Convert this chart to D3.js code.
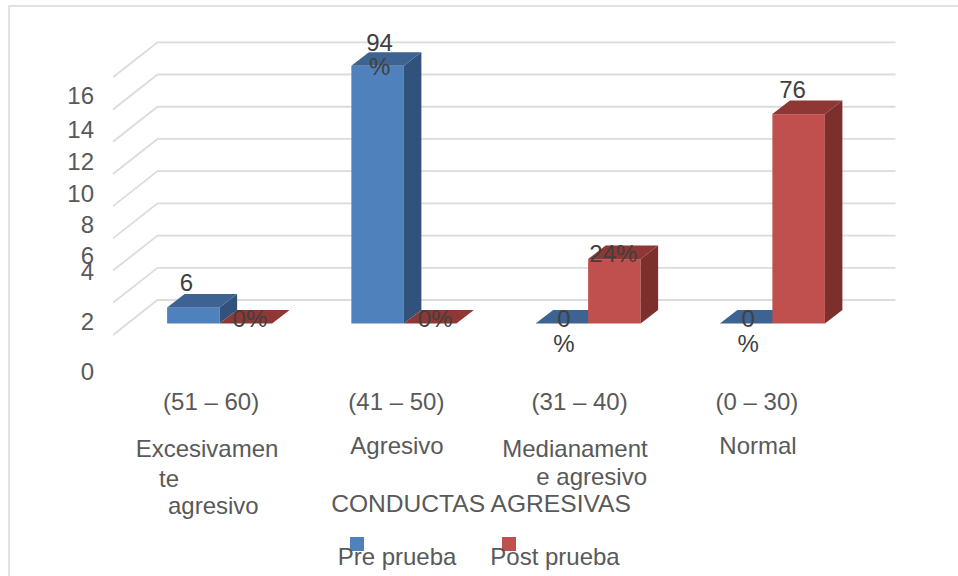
<!DOCTYPE html>
<html>
<head>
<meta charset="utf-8">
<script src="https://cdn.jsdelivr.net/npm/d3@7/dist/d3.min.js"></script>
<style>
  html, body { margin: 0; padding: 0; background: #fff; }
  svg { display: block; }
  text { font-family: "Liberation Sans", Arial, sans-serif; }
</style>
</head>
<body>
<script>
// data
var ranges = ["(51 – 60)", "(41 – 50)", "(31 – 40)", "(0 – 30)"];
var levels = ["Excesivamente agresivo", "Agresivo", "Medianamente agresivo", "Normal"];
var seriesNames = ["Pre prueba", "Post prueba"];
var prePrueba = [1, 16, 0, 0];
var postPrueba = [0, 0, 4, 13];
var preLabels = ["6", "94|%", "0|%", "0|%"];
var postLabels = ["0%", "0%", "24%", "76"];
var yTicks = [0, 2, 4, 6, 8, 10, 12, 14, 16];
var axisTitle = "CONDUCTAS AGRESIVAS";

var width = 958, height = 576;
var gray = "#595959", dark = "#404040", fontSize = 24;

var svg = d3.select("body").append("svg")
  .attr("width", width)
  .attr("height", height);

// chart frame, only top and left show in the crop
svg.append("path")
  .attr("d", d3.line()([[958, 6], [9, 6], [9, 576]]))
  .attr("fill", "none")
  .attr("stroke", "#d9d9d9")
  .attr("stroke-width", 1.5);

var x0 = d3.scaleBand().domain(levels).range([113, 850]).paddingInner(0.43).paddingOuter(0.215);
var x1 = d3.scaleBand().domain(seriesNames).range([0, x0.bandwidth()]);
var y = d3.scaleLinear().domain([0, 16]).range([323.5, 65.8]);

// offsets of the fake 3d box
var floorShift = 14.5;      // bars stand this far in from the front of the floor
var depthX = 17.5, depthY = 13.5;   // bar depth
var wallX = 44.5, wallUp = 23.5, frontDown = 11.5;

// gridlines, back wall plus the slanted bit on the left wall
var grid = svg.append("g");
yTicks.forEach(function (v) {
  grid.append("path")
    .attr("d", d3.line()([
      [113, y(v) + frontDown],
      [113 + wallX, y(v) - wallUp],
      [895.5, y(v) - wallUp]
    ]))
    .attr("fill", "none")
    .attr("stroke", "#dcdcdc")
    .attr("stroke-width", 1.8);
});

var seriesColors = [
  { front: "#4f81bd", side: "#31527a", top: "#3c6391" },
  { front: "#c0504d", side: "#7d2f2d", top: "#8e3735" }
];

function drawBars(values, s) {
  var c = seriesColors[s];
  values.forEach(function (v, i) {
    var left = x0(levels[i]) + floorShift + x1(seriesNames[s]);
    var right = left + x1.bandwidth();
    var top = y(v), base = y(0);
    var g = svg.append("g");
    g.append("rect")
      .attr("x", left).attr("y", top)
      .attr("width", right - left).attr("height", base - top)
      .attr("fill", c.front);
    g.append("polygon")
      .attr("points", [[right, top], [right + depthX, top - depthY], [right + depthX, base - depthY], [right, base]].join(" "))
      .attr("fill", c.side);
    g.append("polygon")
      .attr("points", [[left, top], [left + depthX, top - depthY], [right + depthX, top - depthY], [right, top]].join(" "))
      .attr("fill", c.top);
  });
}
drawBars(prePrueba, 0);
drawBars(postPrueba, 1);

// value labels sit wherever the author dragged them, so nudges per label
var preNudge = [[-7, -16.5], [2, -15], [2, 3.5], [2, 3.5]];
var postNudge = [[4, 3.5], [5, 3.5], [-1, 3], [-6, -16]];

function drawValueLabels(labels, values, s, nudge) {
  labels.forEach(function (txt, i) {
    var cx = x0(levels[i]) + floorShift + x1(seriesNames[s]) + x1.bandwidth() / 2 + nudge[i][0];
    var t = svg.append("text")
      .attr("text-anchor", "middle")
      .attr("font-size", fontSize)
      .attr("fill", dark);
    txt.split("|").forEach(function (part, k) {
      t.append("tspan")
        .attr("x", cx)
        .attr("y", y(values[i]) + nudge[i][1] + k * 24.5)
        .text(part);
    });
  });
}
drawValueLabels(preLabels, prePrueba, 0, preNudge);
drawValueLabels(postLabels, postPrueba, 1, postNudge);

// y axis labels are not even on the original
var yLabelScale = d3.scaleLinear()
  .domain(yTicks)
  .range([371.5, 322, 272, 256, 225, 194, 162, 130, 96]);

var yAxis = svg.append("g")
  .attr("transform", "translate(94,0)")
  .call(d3.axisLeft(yLabelScale).tickValues(yTicks).tickSize(0).tickPadding(0));
yAxis.select(".domain").remove();
yAxis.selectAll("text")
  .attr("font-size", fontSize)
  .attr("font-family", "Liberation Sans")
  .attr("fill", gray);

// category labels, wrapped by hand like the original
var rangeNudge = [6, 7, 6, -1];
var catLines = [
  [["Excesivamen", 207, 457, "middle"], ["te", 159, 487, "start"], ["agresivo", 168, 514, "start"]],
  [["Agresivo", 397, 454, "middle"]],
  [["Medianament", 575, 457, "middle"], ["e agresivo", 647, 485, "end"]],
  [["Normal", 758, 454, "middle"]]
];

ranges.forEach(function (r, i) {
  svg.append("text")
    .attr("x", x0(levels[i]) + x0.bandwidth() / 2 + rangeNudge[i])
    .attr("y", 410)
    .attr("text-anchor", "middle")
    .attr("font-size", fontSize)
    .attr("fill", gray)
    .text(r);
  catLines[i].forEach(function (l) {
    svg.append("text")
      .attr("x", l[1]).attr("y", l[2])
      .attr("text-anchor", l[3])
      .attr("font-size", fontSize)
      .attr("fill", gray)
      .text(l[0]);
  });
});

svg.append("text")
  .attr("x", 481).attr("y", 512)
  .attr("text-anchor", "middle")
  .attr("font-size", 24.6)
  .attr("fill", gray)
  .text(axisTitle);

// legend, swatches overlap the text in the original
var legendX = d3.scaleOrdinal().domain(seriesNames).range([397, 555]);
var swatchX = d3.scaleOrdinal().domain(seriesNames).range([350, 502]);
seriesNames.forEach(function (name, s) {
  svg.append("rect")
    .attr("x", swatchX(name)).attr("y", 537)
    .attr("width", 14).attr("height", 14)
    .attr("fill", seriesColors[s].front);
  svg.append("text")
    .attr("x", legendX(name)).attr("y", 565)
    .attr("text-anchor", "middle")
    .attr("font-size", fontSize)
    .attr("fill", gray)
    .text(name);
});
</script>
</body>
</html>
